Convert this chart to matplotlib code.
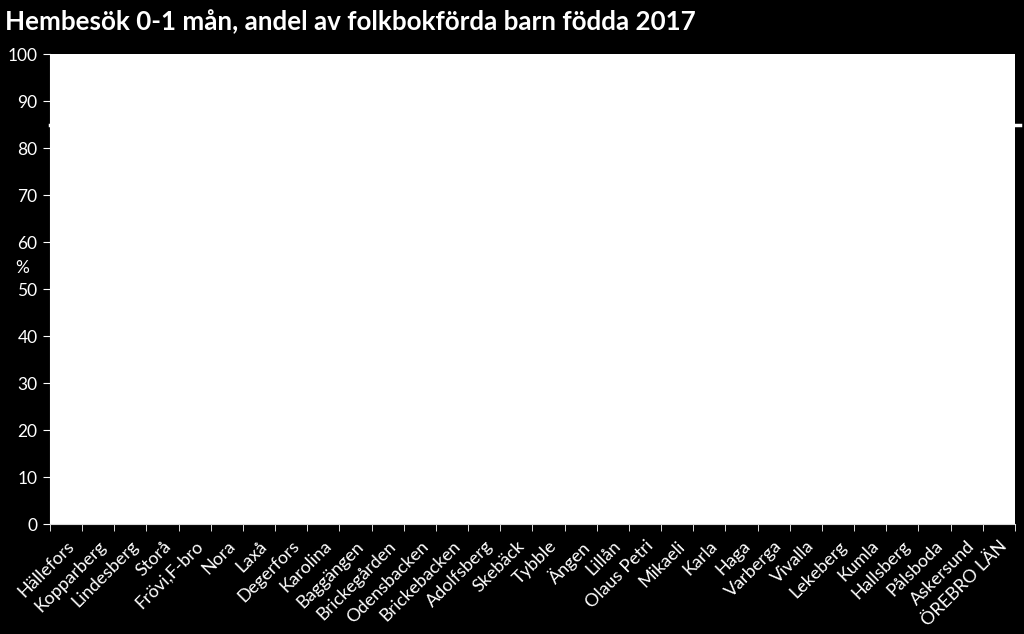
import numpy as np
import matplotlib.pyplot as plt

plt.rcParams['font.family'] = ['Lato', 'DejaVu Sans']

# kommuner / områden
categories = ['Hällefors', 'Kopparberg', 'Lindesberg', 'Storå', 'Frövi,F-bro', 'Nora',
              'Laxå', 'Degerfors', 'Karolina', 'Baggängen', 'Brickegården', 'Odensbacken',
              'Brickebacken', 'Adolfsberg', 'Skebäck', 'Tybble', 'Ängen', 'Lillån',
              'Olaus Petri', 'Mikaeli', 'Karla', 'Haga', 'Varberga', 'Vivalla',
              'Lekeberg', 'Kumla', 'Hallsberg', 'Pålsboda', 'Askersund', 'ÖREBRO LÄN']
target = 85
yticks = [0, 10, 20, 30, 40, 50, 60, 70, 80, 90, 100]

fig = plt.figure(figsize=(10.24, 6.34), dpi=100, facecolor='black')
ax = fig.add_axes([0.0488, 0.1735, 0.9424, 0.7413])
ax.set_facecolor('white')

x = np.arange(len(categories))
ax.set_xlim(-0.5, len(categories) - 0.5)
ax.set_ylim(0, 100)

# målnivå (vit linje, syns bara utanför ytan)
ax.plot([-0.5, len(categories) - 0.35], [target, target], color='white', lw=2.5, clip_on=False)

ax.set_yticks(yticks)
ax.set_xticks(x)
ax.set_xticklabels(categories, rotation=45, ha='right', rotation_mode='anchor')
ax.set_xticks(np.arange(len(categories) + 1) - 0.5, minor=True)
ax.tick_params(axis='x', which='major', length=0, pad=10, colors='white', labelsize=13)
ax.tick_params(axis='x', which='minor', length=5, color='white', direction='out')
ax.tick_params(axis='y', length=5, color='white', labelcolor='white', labelsize=12.5, pad=4)

for s in ['top', 'right']:
    ax.spines[s].set_visible(False)
ax.spines['left'].set_color('white')
ax.spines['bottom'].set_color('#d9d9d9')

ax.set_ylabel('%', rotation=0, color='white', fontsize=12.5, va='center', ha='center')
ax.yaxis.set_label_coords(-0.029, 0.545)

fig.text(0.005, 0.965, 'Hembesök 0-1 mån, andel av folkbokförda barn födda 2017',
         color='white', fontsize=18.7, fontweight='bold', va='center', ha='left')

fig.savefig('out.png', dpi=100, facecolor='black')
